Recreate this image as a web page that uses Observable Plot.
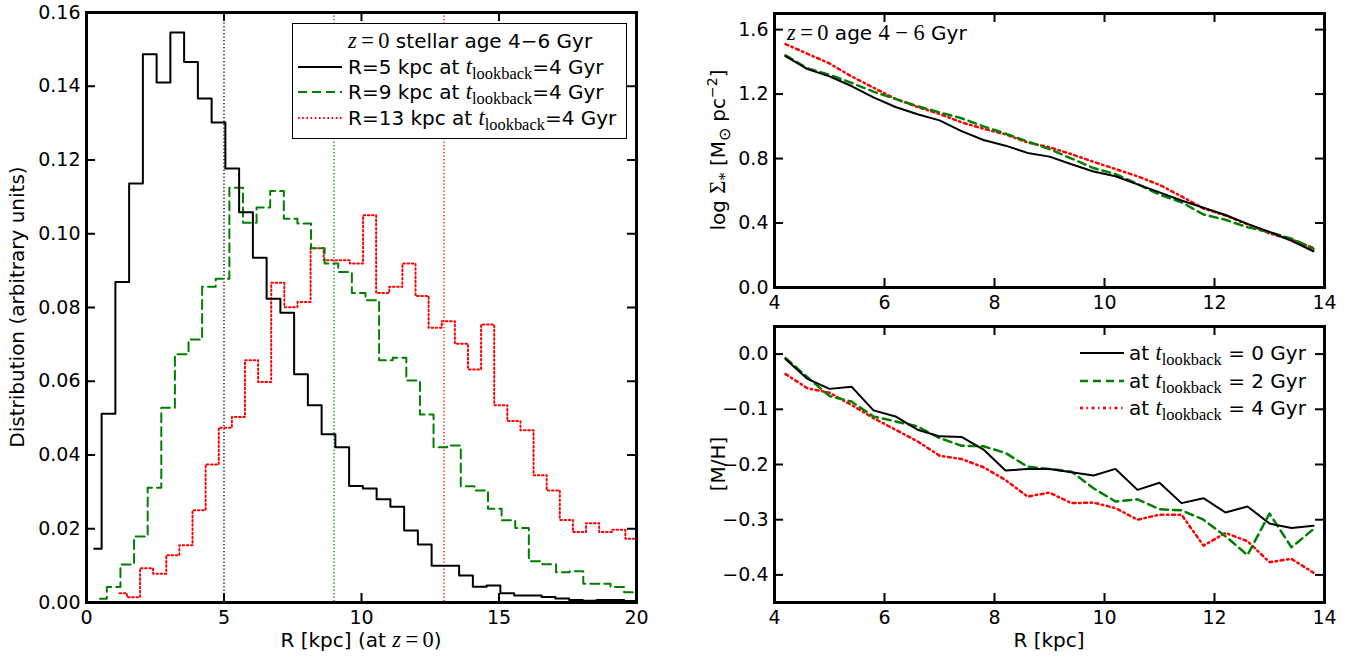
<!DOCTYPE html>
<html><head><meta charset="utf-8">
<script src="https://cdn.jsdelivr.net/npm/d3@7"></script>
<script src="https://cdn.jsdelivr.net/npm/@observablehq/plot@0.6"></script>
<style>
body{margin:0;background:#fff;}
#wrap{position:relative;width:1352px;height:660px;font-family:"DejaVu Sans",sans-serif;font-size:20px;color:#000;overflow:hidden;background:#fff}
.abs{position:absolute;white-space:nowrap;line-height:1;}
.plot{position:absolute;}
.m{font-family:"Liberation Serif",serif;font-style:italic;font-size:1.12em}
.mr{font-family:"Liberation Serif",serif;font-size:1.12em}
.sub{font-family:"Liberation Serif",serif;font-size:0.82em;position:relative;top:0.3em}
.sup{font-size:0.7em;position:relative;top:-0.55em}
.rot{transform:translate(-50%,-50%) rotate(-90deg);}
.ctr{transform:translate(-50%,-50%);}
.vc{transform:translateY(-50%);}
</style></head><body><div id="wrap"></div>
<script>
// ---------- Left panel: radial distributions (histograms) ----------
const histTicksX = [0, 5, 10, 15, 20];
const histTicksY = [0, 0.02, 0.04, 0.06, 0.08, 0.10, 0.12, 0.14, 0.16];
const birthRadii = [5, 9, 13];

// bin edges (kpc) of each histogram
const blackEdges = [0.28, ...d3.range(40).map(k => 0.55 + 0.5 * k)];
const greenEdges = [0.49, ...d3.range(40).map(k => 0.74 + 0.495 * k)];
const redEdges   = [1.2,  ...d3.range(40).map(k => 1.47 + 0.477 * k)];

const blackValues = [0.0146, 0.0512, 0.0869, 0.1136, 0.1487, 0.141, 0.1546, 0.1466, 0.1367, 0.1302,
  0.1177, 0.1058, 0.0935, 0.0824, 0.0786, 0.0619, 0.0535, 0.0456, 0.0421, 0.0316,
  0.0309, 0.028, 0.026, 0.0195, 0.0157, 0.010, 0.010, 0.0073, 0.0043, 0.0046,
  0.0025, 0.0019, 0.0019, 0.0015, 0.0011, 0.0007, 0.0005, 0.0007, 0.0007, 0.0004];
const greenValues = [0.001, 0.0042, 0.0103, 0.0179, 0.0311, 0.0528, 0.0673, 0.0713, 0.0856, 0.0878,
  0.1125, 0.103, 0.1071, 0.1116, 0.1041, 0.1028, 0.0961, 0.0919, 0.0896, 0.0839,
  0.082, 0.0657, 0.0664, 0.0602, 0.051, 0.0421, 0.0426, 0.0315, 0.0304, 0.0254,
  0.0223, 0.0202, 0.0112, 0.0104, 0.0082, 0.0085, 0.0051, 0.0051, 0.0042, 0.0028];
const redValues = [0.0025, 0.0014, 0.0093, 0.0078, 0.0128, 0.0155, 0.025, 0.0374, 0.0474, 0.0503,
  0.0657, 0.0598, 0.0867, 0.0801, 0.0815, 0.0961, 0.0928, 0.0928, 0.0919, 0.105,
  0.0839, 0.0856, 0.0919, 0.0831, 0.0745, 0.0763, 0.0702, 0.0632, 0.0754, 0.0535,
  0.0492, 0.0467, 0.0345, 0.0304, 0.0224, 0.0191, 0.0215, 0.0191, 0.0197, 0.0173];

// ---------- Right panels: profiles ----------
const radii = [4.2, 4.6, 5.0, 5.4, 5.8, 6.2, 6.6, 7.0, 7.4, 7.8, 8.2, 8.6, 9.0, 9.4, 9.8,
  10.2, 10.6, 11.0, 11.4, 11.8, 12.2, 12.6, 13.0, 13.4, 13.8];
const sigmaT0 = [1.435, 1.355, 1.31, 1.25, 1.18, 1.12, 1.075, 1.037, 0.97, 0.915, 0.88, 0.835, 0.812, 0.765, 0.72,
  0.69, 0.64, 0.59, 0.54, 0.495, 0.45, 0.395, 0.345, 0.29, 0.225];
const sigmaT2 = [1.44, 1.36, 1.32, 1.27, 1.215, 1.17, 1.125, 1.087, 1.05, 1.0, 0.955, 0.906, 0.859, 0.80, 0.741,
  0.704, 0.642, 0.576, 0.529, 0.453, 0.42, 0.374, 0.343, 0.303, 0.241];
const sigmaT4 = [1.51, 1.45, 1.39, 1.31, 1.24, 1.17, 1.12, 1.077, 1.025, 0.985, 0.95, 0.9, 0.87, 0.827, 0.78,
  0.735, 0.69, 0.637, 0.565, 0.49, 0.447, 0.392, 0.335, 0.298, 0.245];
const mhT0 = [-0.009, -0.045, -0.063, -0.059, -0.102, -0.113, -0.137, -0.149, -0.150, -0.173, -0.211, -0.208, -0.208, -0.214, -0.22,
  -0.208, -0.246, -0.233, -0.27, -0.261, -0.287, -0.276, -0.307, -0.315, -0.311];
const mhT2 = [-0.007, -0.042, -0.076, -0.086, -0.113, -0.122, -0.131, -0.152, -0.166, -0.167, -0.179, -0.204, -0.208, -0.213, -0.243,
  -0.267, -0.263, -0.281, -0.283, -0.300, -0.330, -0.364, -0.289, -0.350, -0.317];
const mhT4 = [-0.036, -0.062, -0.070, -0.092, -0.116, -0.137, -0.158, -0.184, -0.190, -0.205, -0.228, -0.258, -0.251, -0.27, -0.269,
  -0.279, -0.300, -0.291, -0.291, -0.347, -0.324, -0.339, -0.377, -0.371, -0.396];
const profTicksX = [4, 6, 8, 10, 12, 14];
const sigmaTicksY = [0, 0.4, 0.8, 1.2, 1.6];
const mhTicksY = [0, -0.1, -0.2, -0.3, -0.4];

// ---------- styles ----------
const GREEN = "#008000", RED = "#ff0000", BLACK = "#000000";
const refColors = [BLACK, GREEN, RED];
const DOT = "1.6,2.6", DASH = "9,5", DASHDOT = "3,3.5,1.5,3.5";
const FONT = {fontFamily: "DejaVu Sans, sans-serif", fontSize: "19px", background: "transparent", overflow: "visible"};

function stepPoints(edges, values) {
  const pts = values.map((v, i) => ({x: edges[i], y: v}));
  pts.push({x: edges[values.length], y: values[values.length - 1]});
  return pts;
}

function frameTicks(xt, yt, W, H) {
  const T = 9;
  return [
    Plot.tickX(xt, {x: d => d, insetTop: H - T, strokeWidth: 2}),
    Plot.tickX(xt, {x: d => d, insetBottom: H - T, strokeWidth: 2}),
    Plot.tickY(yt, {y: d => d, insetRight: W - T, strokeWidth: 2}),
    Plot.tickY(yt, {y: d => d, insetLeft: W - T, strokeWidth: 2})
  ];
}

const wrap = document.getElementById("wrap");
function place(el, left, top) {
  el.classList.add("plot");
  el.style.left = left + "px";
  el.style.top = top + "px";
  wrap.appendChild(el);
}

// Left plot
const left = Plot.plot({
  width: 660, height: 660,
  marginLeft: 86, marginRight: 24, marginTop: 12, marginBottom: 58,
  style: FONT,
  x: {domain: [0, 20]},
  y: {domain: [0, 0.16]},
  marks: [
    Plot.ruleX(birthRadii, {x: d => d, stroke: (d, i) => refColors[i], strokeWidth: 1.4, strokeDasharray: "1.3,2.2"}),
    Plot.line(stepPoints(redEdges, redValues), {x: "x", y: "y", curve: "step-after", stroke: RED, strokeWidth: 2, strokeDasharray: DOT, clip: true}),
    Plot.line(stepPoints(greenEdges, greenValues), {x: "x", y: "y", curve: "step-after", stroke: GREEN, strokeWidth: 2, strokeDasharray: DASH, clip: true}),
    Plot.line(stepPoints(blackEdges, blackValues), {x: "x", y: "y", curve: "step-after", stroke: BLACK, strokeWidth: 2, clip: true}),
    ...frameTicks(histTicksX, histTicksY, 550, 590),
    Plot.axisX({ticks: histTicksX, tickSize: 0, tickPadding: 8, label: null, fontSize: 19}),
    Plot.axisY({ticks: histTicksY, tickSize: 0, tickPadding: 6, label: null, fontSize: 19, tickFormat: d3.format(".2f")}),
    Plot.frame({strokeWidth: 3})
  ]
});
place(left, 0, 0);

// Right-top plot
const rt = Plot.plot({
  width: 662, height: 310,
  marginLeft: 84, marginRight: 28, marginTop: 13, marginBottom: 23,
  style: FONT,
  x: {domain: [4, 14]},
  y: {domain: [0, 1.7]},
  marks: [
    Plot.line(radii.map((r, i) => ({x: r, y: sigmaT4[i]})), {x: "x", y: "y", stroke: RED, strokeWidth: 2.5, strokeDasharray: DASHDOT}),
    Plot.line(radii.map((r, i) => ({x: r, y: sigmaT2[i]})), {x: "x", y: "y", stroke: GREEN, strokeWidth: 2.5, strokeDasharray: "8,5"}),
    Plot.line(radii.map((r, i) => ({x: r, y: sigmaT0[i]})), {x: "x", y: "y", stroke: BLACK, strokeWidth: 2}),
    ...frameTicks(profTicksX, sigmaTicksY, 550, 274),
    Plot.axisX({ticks: profTicksX, tickSize: 0, tickPadding: 8, label: null, fontSize: 19}),
    Plot.axisY({ticks: sigmaTicksY, tickSize: 0, tickPadding: 6, label: null, fontSize: 19, tickFormat: d3.format(".1f")}),
    Plot.frame({strokeWidth: 3})
  ]
});
place(rt, 690, 0);

// Right-bottom plot
const rb = Plot.plot({
  width: 662, height: 350,
  marginLeft: 84, marginRight: 28, marginTop: 16, marginBottom: 58,
  style: FONT,
  x: {domain: [4, 14]},
  y: {domain: [-0.45, 0.05]},
  marks: [
    Plot.line(radii.map((r, i) => ({x: r, y: mhT4[i]})), {x: "x", y: "y", stroke: RED, strokeWidth: 2.5, strokeDasharray: DASHDOT}),
    Plot.line(radii.map((r, i) => ({x: r, y: mhT2[i]})), {x: "x", y: "y", stroke: GREEN, strokeWidth: 2.5, strokeDasharray: "8,5"}),
    Plot.line(radii.map((r, i) => ({x: r, y: mhT0[i]})), {x: "x", y: "y", stroke: BLACK, strokeWidth: 2}),
    ...frameTicks(profTicksX, mhTicksY, 550, 276),
    Plot.axisX({ticks: profTicksX, tickSize: 0, tickPadding: 8, label: null, fontSize: 19}),
    Plot.axisY({ticks: mhTicksY, tickSize: 0, tickPadding: 6, label: null, fontSize: 19, tickFormat: d3.format(".1f")}),
    Plot.frame({strokeWidth: 3})
  ]
});
place(rb, 690, 310);

// ---------- text overlays ----------
function addHTML(html, left, top, cls, extra) {
  const d = document.createElement("div");
  d.className = "abs " + (cls || "");
  d.style.left = left + "px";
  d.style.top = top + "px";
  if (extra) Object.assign(d.style, extra);
  d.innerHTML = html;
  wrap.appendChild(d);
  return d;
}
function sample(color, dash, width) {
  return `<svg width="44" height="10" style="display:block"><line x1="0" x2="44" y1="5" y2="5" stroke="${color}" stroke-width="${width}" ${dash ? `stroke-dasharray="${dash}"` : ""}/></svg>`;
}
const tlb = `<span class="m">t</span><span class="sub">lookback</span>`;

// axis titles
addHTML(`Distribution (arbitrary units)`, 17, 307, "rot");
addHTML(`R [kpc] (at <span class="m">z</span><span class="mr">&#8201;=&#8201;0</span>)`, 361, 640, "ctr");
addHTML(`log <span class="mr">Σ</span><span class="sub">*</span> [M<span class="sub">⊙</span> pc<span class="sup">−2</span>]`, 718, 150, "rot");
addHTML(`[M/H]`, 718, 464, "rot");
addHTML(`R [kpc]`, 1049, 640, "ctr");

// left legend
addHTML("", 292, 23, "", {width: "335px", height: "116px", border: "1.5px solid #000", background: "#fff", boxSizing: "border-box"});
addHTML(`<span class="m">z</span><span class="mr">&#8201;=&#8201;0</span> stellar age 4−6 Gyr`, 348, 41, "vc");
const legRows = [
  {label: `R=5 kpc at ${tlb}=4 Gyr`, color: BLACK, dash: null, y: 66.7},
  {label: `R=9 kpc at ${tlb}=4 Gyr`, color: GREEN, dash: DASH, y: 91.7},
  {label: `R=13 kpc at ${tlb}=4 Gyr`, color: RED, dash: DOT, y: 118.3}
];
legRows.forEach(r => {
  addHTML(sample(r.color, r.dash, 2), 298, r.y, "vc");
  addHTML(r.label, 348, r.y, "vc");
});

// right-top annotation
addHTML(`<span class="m">z</span><span class="mr">&#8201;=&#8201;0</span> age <span class="mr">4 − 6</span> Gyr`, 787, 33, "vc");

// right-bottom legend
const rbRows = [
  {label: `at ${tlb} = 0 Gyr`, color: BLACK, dash: null, w: 2, y: 353.3},
  {label: `at ${tlb} = 2 Gyr`, color: GREEN, dash: "8,5", w: 2.5, y: 381},
  {label: `at ${tlb} = 4 Gyr`, color: RED, dash: DASHDOT, w: 2.5, y: 408.3}
];
rbRows.forEach(r => {
  addHTML(sample(r.color, r.dash, r.w), 1080, r.y, "vc");
  addHTML(r.label, 1129, r.y, "vc");
});
</script></body></html>
